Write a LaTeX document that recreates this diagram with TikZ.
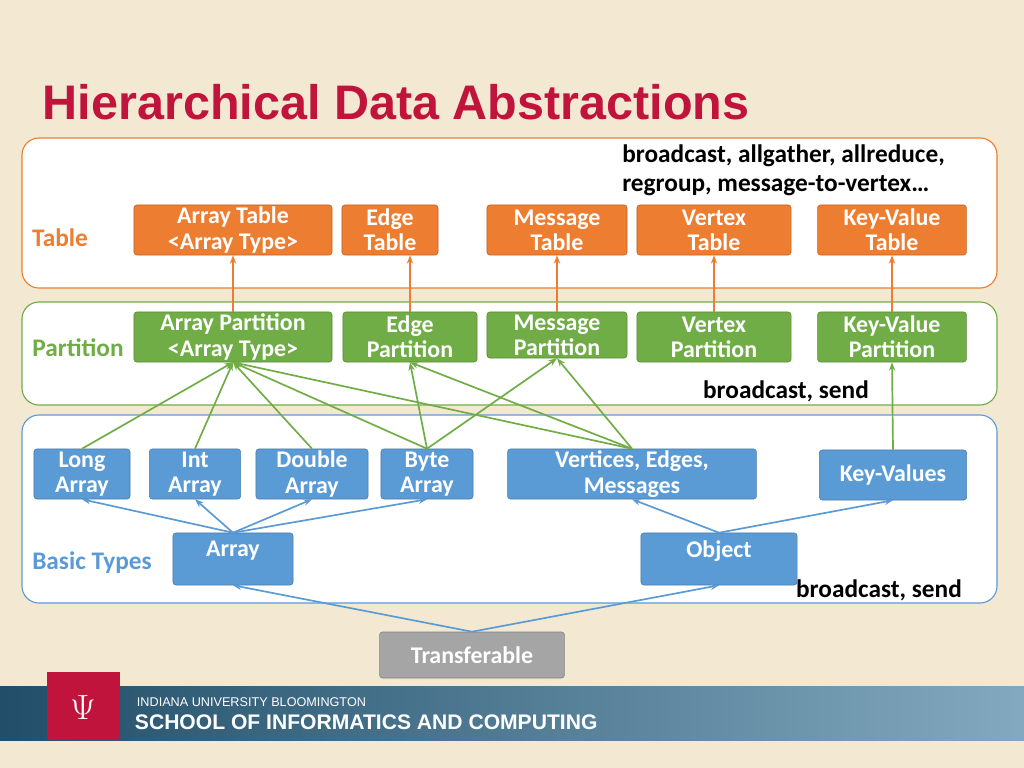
\documentclass[tikz,border=0pt]{standalone}
\usepackage{fontspec}
\setmainfont{Carlito}
\newfontfamily\titlefont{Liberation Sans}
\usetikzlibrary{arrows.meta}
\definecolor{cream}{HTML}{F3E9D2}
\definecolor{iured}{HTML}{C0143C}
\definecolor{orng}{HTML}{ED7D31}
\definecolor{grn}{HTML}{70AD47}
\definecolor{blu}{HTML}{5B9BD5}
\definecolor{gry}{HTML}{A5A5A5}
\definecolor{band}{HTML}{2F6F95}
\tikzset{
  layer/.style={draw=#1,line width=0.8pt,fill=white,rounded corners=12pt},
  box/.style={draw=#1!80!black,fill=#1,text=white,rounded corners=2pt,font=\fontsize{17}{18}\selectfont\bfseries,align=center,inner sep=0pt,minimum height=1.25cm},
  up/.style={-{Stealth[length=6pt]},line width=1.2pt,draw=#1}
}
\begin{document}
\begin{tikzpicture}[x=0.025cm,y=-0.025cm]
  \useasboundingbox (0,0) rectangle (1024,768);
  \fill[cream] (0,0) rectangle (1024,768);
  \shade[left color=band!70!black,right color=band!60!white] (0,686) rectangle (1024,740);
  % logo
  \fill[iured] (47,672) rectangle (120,740);
  \node[text=white,font=\fontsize{56}{56}\selectfont] (logo) at (83,708) {$\Psi$};
  \node[anchor=west,text=white,font=\titlefont\fontsize{9}{10}\selectfont] (univ) at (132,702) {INDIANA UNIVERSITY BLOOMINGTON};
  \node[anchor=west,text=white,font=\titlefont\bfseries\fontsize{15}{16}\selectfont] (school) at (130,722) {SCHOOL OF INFORMATICS AND COMPUTING};
  % title
  \node[anchor=west,text=iured,font=\titlefont\bfseries\fontsize{34.5}{36}\selectfont] (title) at (38,102) {Hierarchical Data Abstractions};
  % layers
  \draw[layer=orng] (22,138) rectangle (997,288);
  \draw[layer=grn] (22,302) rectangle (997,405);
  \draw[layer=blu] (22,415) rectangle (997,603);
  \node[text=orng,font=\fontsize{18}{19}\selectfont\bfseries] (ltab) at (60,238) {Table};
  \node[text=grn,font=\fontsize{18}{19}\selectfont\bfseries] (lpart) at (78,348) {Partition};
  \node[text=blu,font=\fontsize{18}{19}\selectfont\bfseries] (lbasic) at (92,563) {Basic Types};
  \node[anchor=north west,align=left,font=\fontsize{18}{21}\selectfont\bfseries,inner sep=0pt] (ops1) at (622,144) {broadcast, allgather, allreduce,\\regroup, message-to-vertex\dots};
  \node[font=\fontsize{18}{19}\selectfont\bfseries] (ops2) at (786,391) {broadcast, send};
  \node[font=\fontsize{18}{19}\selectfont\bfseries] (ops3) at (879,590) {broadcast, send};
  % table
  \node[box=orng,minimum width=4.95cm] (tarr) at (233,230) {Array Table\\<Array Type>};
  \node[box=orng,minimum width=2.4cm] (tedge) at (390,230) {Edge\\Table};
  \node[box=orng,minimum width=3.5cm] (tmsg) at (557,230) {Message\\Table};
  \node[box=orng,minimum width=3.85cm] (tvert) at (714,230) {Vertex\\Table};
  \node[box=orng,minimum width=3.72cm] (tkv) at (892,230) {Key-Value\\Table};
  % partition
  \node[box=grn,minimum width=4.95cm] (parr) at (233,337) {Array Partition\\<Array Type>};
  \node[box=grn,minimum width=3.35cm] (pedge) at (410,337) {Edge\\Partition};
  \node[box=grn,minimum width=3.5cm,minimum height=1.15cm] (pmsg) at (557,335) {Message\\Partition};
  \node[box=grn,minimum width=3.85cm] (pvert) at (714,337) {Vertex\\Partition};
  \node[box=grn,minimum width=3.72cm] (pkv) at (892,337) {Key-Value\\Partition};
  % basic
  \node[box=blu,minimum width=2.4cm] (blong) at (82,474) {Long\\Array};
  \node[box=blu,minimum width=2.28cm] (bint) at (195,474) {Int\\Array};
  \node[box=blu,minimum width=2.8cm] (bdbl) at (312,474) {Double\\Array};
  \node[box=blu,minimum width=2.3cm] (bbyte) at (427,474) {Byte\\Array};
  \node[box=blu,minimum width=6.22cm] (bvem) at (632,474) {Vertices, Edges,\\Messages};
  \node[box=blu,minimum width=3.68cm] (bkv) at (893,475) {Key-Values};
  \node[box=blu,minimum width=3cm,minimum height=1.3cm] (barr) at (233,559) {Array\\[-4pt]\phantom{A}};
  \node[box=blu,minimum width=3.9cm,minimum height=1.3cm] (bobj) at (719,559) {Object\\[-4pt]\phantom{A}};
  \node[box=gry,minimum width=4.62cm,minimum height=1.15cm] (trans) at (472,655) {Transferable};
  % table <- partition
  \foreach \n/\m in {arr/arr,edge/edge,msg/msg,vert/vert,kv/kv}
    \draw[up=orng] (p\n.north) -- (p\n.north |- t\m.south);
  % partition <- basic
  \foreach \a/\b in {blong/parr,bint/parr,bdbl/parr,bbyte/parr,bbyte/pedge,bbyte/pmsg,bvem/parr,bvem/pedge,bvem/pmsg,bkv/pkv}
    \draw[up=grn] (\a.north) -- (\b.south);
  % basic types
  \foreach \b in {blong,bint,bdbl,bbyte}
    \draw[up=blu] (barr.north) -- (\b.south);
  \foreach \b in {bvem,bkv}
    \draw[up=blu] (bobj.north) -- (\b.south);
  \draw[up=blu] (trans.north) -- (barr.south);
  \draw[up=blu] (trans.north) -- (bobj.south);
\end{tikzpicture}
\end{document}
